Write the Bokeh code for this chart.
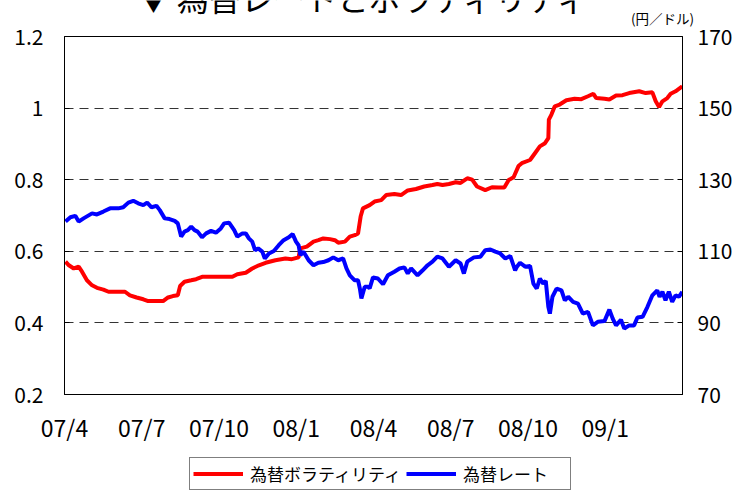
from bokeh.plotting import figure
from bokeh.layouts import column
from bokeh.models import (Range1d, LinearAxis, Legend, LegendItem, Label,
                          FixedTicker)
from bokeh.embed import file_html
from bokeh.resources import INLINE

# x positions are months since 2007/04 (0 = 07/4, 24 = 09/4)
vol_month = [0.04, 0.17, 0.36, 0.55, 0.68, 0.87, 1.07, 1.26, 1.51, 1.71, 2.03, 2.35,
             2.54, 2.80, 3.06, 3.25, 3.57, 3.83, 4.02, 4.21, 4.40, 4.49, 4.66, 4.92,
             5.11, 5.37, 5.88, 6.52, 6.71, 7.04, 7.29, 7.55, 7.81, 8.19, 8.58, 8.83,
             9.09, 9.16, 9.41, 9.67, 9.86, 10.05, 10.31, 10.50, 10.63, 10.89, 11.08,
             11.27, 11.40, 11.50, 11.59, 11.85, 12.04, 12.30, 12.49, 12.81, 13.07,
             13.33, 13.65, 13.97, 14.29, 14.48, 14.68, 14.93, 15.19, 15.38, 15.64,
             15.83, 16.02, 16.34, 16.60, 16.86, 17.08, 17.25, 17.44, 17.63, 17.76,
             18.08, 18.27, 18.46, 18.66, 18.79, 18.81, 18.91, 19.04, 19.23, 19.49,
             19.81, 20.07, 20.33, 20.54, 20.65, 20.97, 21.16, 21.42, 21.67, 21.93,
             22.32, 22.57, 22.83, 22.96, 23.09, 23.22, 23.41, 23.54, 23.73, 23.99]
volatility = [0.571, 0.561, 0.552, 0.557, 0.543, 0.519, 0.505, 0.498, 0.493, 0.487, 0.487, 0.487,
              0.477, 0.471, 0.466, 0.461, 0.461, 0.461, 0.471, 0.475, 0.477, 0.503, 0.515, 0.519,
              0.522, 0.529, 0.529, 0.529, 0.536, 0.540, 0.552, 0.561, 0.568, 0.575, 0.580, 0.578,
              0.583, 0.608, 0.613, 0.627, 0.631, 0.636, 0.634, 0.631, 0.624, 0.627, 0.641,
              0.645, 0.650, 0.697, 0.720, 0.729, 0.739, 0.743, 0.757, 0.760, 0.757,
              0.770, 0.774, 0.781, 0.785, 0.788, 0.785, 0.788, 0.793, 0.791, 0.804,
              0.800, 0.781, 0.771, 0.779, 0.778, 0.778, 0.799, 0.807, 0.838, 0.846,
              0.855, 0.874, 0.893, 0.902, 0.916, 0.968, 0.982, 1.005, 1.010, 1.022,
              1.026, 1.025, 1.033, 1.040, 1.028, 1.026, 1.024, 1.035, 1.036, 1.042,
              1.047, 1.042, 1.044, 1.019, 1.003, 1.019, 1.028, 1.040, 1.047, 1.061]

fx_month = [0.04, 0.23, 0.42, 0.55, 0.74, 1.07, 1.26, 1.51, 1.77, 2.09, 2.28, 2.48, 2.67,
            2.86, 3.06, 3.21, 3.38, 3.57, 3.70, 3.89, 4.08, 4.28, 4.40, 4.53, 4.66, 4.79,
            4.92, 5.05, 5.17, 5.34, 5.50, 5.69, 5.88, 6.07, 6.20, 6.39, 6.59, 6.71, 6.91,
            7.04, 7.16, 7.29, 7.40, 7.52, 7.68, 7.78, 7.94, 8.13, 8.32, 8.51, 8.71, 8.86,
            8.99, 9.09, 9.16, 9.28, 9.48, 9.67, 9.86, 10.05, 10.25, 10.44, 10.63, 10.82,
            10.95, 11.08, 11.27, 11.40, 11.47, 11.53, 11.66, 11.79, 11.85, 11.98, 12.17,
            12.37, 12.56, 12.81, 13.01, 13.20, 13.33, 13.46, 13.71, 13.91, 14.10, 14.29,
            14.48, 14.68, 14.93, 15.19, 15.38, 15.51, 15.64, 15.90, 16.15, 16.34, 16.54,
            16.73, 16.92, 17.12, 17.31, 17.50, 17.57, 17.69, 17.89, 18.08, 18.21, 18.34,
            18.46, 18.59, 18.69, 18.79, 18.85, 18.95, 19.11, 19.30, 19.43, 19.56, 19.75,
            19.94, 20.13, 20.33, 20.52, 20.71, 20.97, 21.16, 21.29, 21.42, 21.61, 21.74,
            21.93, 22.12, 22.25, 22.45, 22.64, 22.83, 23.02, 23.11, 23.22, 23.34, 23.47,
            23.60, 23.73, 23.86, 23.99]
fx_rate = [118.3, 119.5, 119.9, 118.3, 119.2, 120.6, 120.3, 121.1, 122.0, 122.0, 122.3, 123.6, 124.1,
           123.4, 122.9, 123.6, 122.3, 122.7, 121.5, 119.2, 119.0, 118.5, 117.8, 114.1, 115.5, 115.9,
           116.9, 115.9, 115.5, 113.9, 115.0, 115.7, 115.2, 116.4, 117.8, 118.0, 115.9, 114.1, 115.0,
           115.0, 113.6, 112.7, 110.3, 110.8, 109.9, 108.0, 109.4, 110.1, 111.7, 113.1, 113.9, 114.8,
           112.7, 111.7, 108.9, 109.9, 107.5, 106.1, 106.8, 107.0, 107.5, 108.3, 107.5, 108.0,
           105.2, 103.3, 101.9, 101.9, 99.6, 96.8, 100.1, 100.1, 99.6, 102.7, 102.4,
           100.8, 103.3, 104.3, 105.2, 105.5, 103.8, 105.2, 103.3, 104.7, 106.1, 107.1,
           108.5, 108.0, 105.7, 107.5, 106.6, 103.8, 107.1, 108.3, 108.5, 110.3, 110.5,
           109.9, 109.4, 108.0, 108.7, 104.7, 105.7, 106.8, 105.7, 105.9, 101.0, 99.6,
           102.4, 101.0, 101.7, 94.5, 92.6, 97.3, 99.6, 99.1, 96.3, 97.3, 95.9,
           95.4, 92.6, 93.1, 89.3, 90.3, 90.5, 93.7, 91.2, 89.3, 90.9, 88.4,
           89.3, 89.3, 91.5, 91.7, 94.5, 97.7, 99.1, 97.3, 98.7, 96.3, 98.7,
           95.9, 97.7, 97.3, 98.7]

x_ticks = [0, 3, 6, 9, 12, 15, 18, 21]
x_tick_labels = ["07/4", "07/7", "07/10", "08/1", "08/4", "08/7", "08/10", "09/1"]
left_ticks = [0.2, 0.4, 0.6, 0.8, 1.0, 1.2]
left_tick_labels = ["0.2", "0.4", "0.6", "0.8", "1", "1.2"]
right_ticks = [70, 90, 110, 130, 150, 170]
series_names = ["為替ボラティリティ", "為替レート"]
series_colors = ["#FF0000", "#0000FF"]
title_text = "▼   為替レートとボラティリティ"
unit_text = "(円／ドル)"

FONT = "Noto Sans CJK JP"
W = 735
TOP_H = 27
LEG_H = 35
MAIN_H = 491 - TOP_H - LEG_H

# ---- top strip: title (cut off at the top, as in the source) and unit ----
top = figure(width=W, height=TOP_H, output_backend="svg", toolbar_location=None,
             x_range=Range1d(0, W), y_range=Range1d(TOP_H, 0),
             x_axis_type=None, y_axis_type=None, min_border=0,
             outline_line_color=None, background_fill_color="white",
             border_fill_color="white", frame_align=False)
top.grid.visible = False
top.add_layout(Label(x=137, y=-4, text=title_text, text_font=FONT,
                     text_font_size="32px", text_color="black",
                     text_baseline="alphabetic", text_align="left"))
top.add_layout(Label(x=662, y=17, text=unit_text, text_font=FONT,
                     text_font_size="13.5px", text_color="black",
                     text_baseline="middle", text_align="center"))

# ---- main chart ----
p = figure(width=W, height=MAIN_H, output_backend="svg", toolbar_location=None,
           x_range=Range1d(0, 24), y_range=Range1d(0.2, 1.2),
           min_border_left=64, min_border_right=48, min_border_top=36 - TOP_H,
           min_border_bottom=MAIN_H - (36 - TOP_H) - 358,
           background_fill_color="white",
           border_fill_color="white", outline_line_color="black",
           outline_line_width=1, frame_align=False)
p.extra_y_ranges = {"yen": Range1d(70, 170)}

p.xgrid.visible = False
p.ygrid.ticker = FixedTicker(ticks=[0.4, 0.6, 0.8, 1.0])
p.ygrid.grid_line_color = "#333333"
p.ygrid.grid_line_dash = "9 6"
p.ygrid.grid_line_width = 1

xa = p.xaxis[0]
xa.ticker = FixedTicker(ticks=x_ticks)
xa.major_label_overrides = {t: l for t, l in zip(x_ticks, x_tick_labels)}
xa.major_tick_in = 0
xa.major_tick_out = 0
xa.minor_tick_line_color = None
xa.axis_line_color = "black"
xa.major_label_standoff = 15
xa.major_label_text_font = FONT
xa.major_label_text_font_size = "23px"
xa.major_label_text_color = "black"

ya = p.yaxis[0]
ya.ticker = FixedTicker(ticks=left_ticks)
ya.major_label_overrides = {t: l for t, l in zip(left_ticks, left_tick_labels)}
ya.major_tick_in = 5
ya.major_tick_out = 0
ya.minor_tick_line_color = None
ya.axis_line_color = "black"
ya.major_tick_line_color = "black"
ya.major_label_standoff = 21
ya.major_label_text_font = FONT
ya.major_label_text_font_size = "21px"
ya.major_label_text_color = "black"

ra = LinearAxis(y_range_name="yen", ticker=FixedTicker(ticks=right_ticks))
ra.major_tick_in = 5
ra.major_tick_out = 0
ra.minor_tick_line_color = None
ra.axis_line_color = "black"
ra.major_tick_line_color = "black"
ra.major_label_standoff = 15
ra.major_label_text_font = FONT
ra.major_label_text_font_size = "21px"
ra.major_label_text_color = "black"
p.add_layout(ra, "right")

p.line(vol_month, volatility, line_color=series_colors[0], line_width=4)
p.line(fx_month, fx_rate, line_color=series_colors[1], line_width=4,
       y_range_name="yen")

# ---- legend strip (its lower edge runs past the bottom, as in the source) ----
leg = figure(width=W, height=LEG_H, output_backend="svg", toolbar_location=None,
             x_range=Range1d(0, 1), y_range=Range1d(0, 1),
             x_axis_type=None, y_axis_type=None,
             min_border_left=189, min_border_right=0, min_border_top=1,
             min_border_bottom=0, outline_line_color=None,
             background_fill_color="white", border_fill_color="white",
             frame_align=False)
leg.grid.visible = False
# legend keys only (their points lie outside this strip's range)
keys = [leg.line([5, 6], [5, 6], line_color=c, line_width=4) for c in series_colors]
legend = Legend(items=[LegendItem(label=n, renderers=[k])
                       for n, k in zip(series_names, keys)],
                orientation="horizontal", location="top_left", margin=0,
                border_line_color="black", border_line_width=1,
                padding=3, spacing=5, label_standoff=7,
                glyph_width=50, glyph_height=17, label_height=17,
                label_width=104,
                label_text_font=FONT, label_text_font_size="17px",
                label_text_line_height=1.0,
                label_text_color="black", background_fill_color="white",
                background_fill_alpha=1.0)
leg.add_layout(legend)

layout = column(top, p, leg, spacing=0)
open("out.html", "w").write(file_html(layout, INLINE))
